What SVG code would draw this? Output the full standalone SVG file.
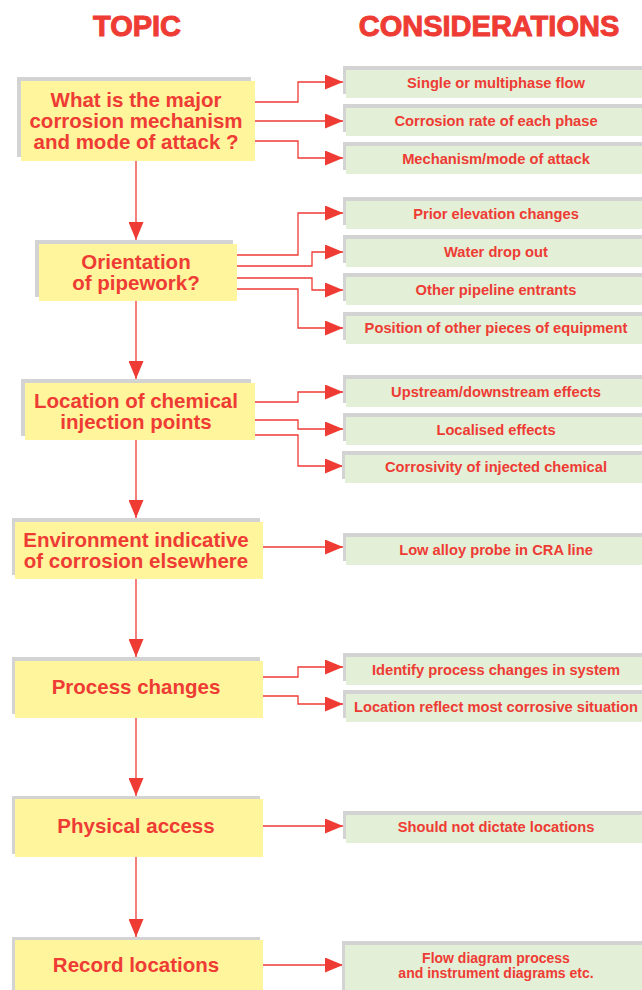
<svg xmlns="http://www.w3.org/2000/svg" width="642" height="990" viewBox="0 0 642 990">
  <style>
    .hdr { font-family: "Liberation Sans", Arial, sans-serif; font-weight: bold; font-size: 29px; fill: #ee3b34; stroke: #ee3b34; stroke-width: 1; text-anchor: middle; }
    .shadow { fill: #d3d3d3; }
    .topic { fill: #fef59c; }
    .cons { fill: #e3efd6; }
    .tt { font-family: "Liberation Sans", Arial, sans-serif; font-weight: bold; font-size: 20.5px; fill: #ee3b34; text-anchor: middle; }
    .ct { font-family: "Liberation Sans", Arial, sans-serif; font-weight: bold; font-size: 14.7px; fill: #ee3b34; text-anchor: middle; }
    .ct2 { font-family: "Liberation Sans", Arial, sans-serif; font-weight: bold; font-size: 14px; fill: #ee3b34; text-anchor: middle; }
    .link { fill: none; stroke: #ee3b34; stroke-width: 1.3; marker-end: url(#head); }
  </style>
  <defs>
    <marker id="head" viewBox="0 0 18 15" refX="18" refY="7.5" markerWidth="18" markerHeight="15" markerUnits="userSpaceOnUse" orient="auto">
      <path d="M0,0 L18,7.5 L0,15 z" fill="#ee3b34"/>
    </marker>
  </defs>

  <rect width="642" height="990" fill="#ffffff"/>

  <!-- column headings -->
  <text class="hdr" x="137" y="36">TOPIC</text>
  <text class="hdr" x="489" y="36">CONSIDERATIONS</text>

  <!-- connectors -->
  <g id="connectors">
    <!-- topic chain -->
    <path class="link" d="M136,161 V240"/>
    <path class="link" d="M136,301 V379"/>
    <path class="link" d="M136,440 V518"/>
    <path class="link" d="M136,579 V657"/>
    <path class="link" d="M136,718 V796"/>
    <path class="link" d="M136,857 V937"/>
    <!-- mechanism -->
    <path class="link" d="M255,102 H298 V82 H343"/>
    <path class="link" d="M255,121 H343"/>
    <path class="link" d="M255,141 H298 V158 H343"/>
    <!-- orientation -->
    <path class="link" d="M237,255 H298 V213 H343"/>
    <path class="link" d="M237,266 H312 V252 H343"/>
    <path class="link" d="M237,278 H312 V290 H343"/>
    <path class="link" d="M237,289 H298 V328 H343"/>
    <!-- injection points -->
    <path class="link" d="M255,402 H298 V392 H343"/>
    <path class="link" d="M255,420 H298 V429 H343"/>
    <path class="link" d="M255,435 H298 V466 H343"/>
    <!-- environment -->
    <path class="link" d="M263,547 H343"/>
    <!-- process changes -->
    <path class="link" d="M263,677 H298 V667 H343"/>
    <path class="link" d="M263,696 H298 V704 H343"/>
    <!-- physical access -->
    <path class="link" d="M263,826 H343"/>
    <!-- record locations -->
    <path class="link" d="M263,965 H343"/>
  </g>

  <!-- topic boxes -->
  <g id="topic-mechanism">
    <rect class="shadow" x="17" y="77" width="234" height="80"/>
    <rect class="topic" x="21" y="81" width="234" height="80"/>
    <text class="tt" x="136" y="107">What is the major</text>
    <text class="tt" x="136" y="128">corrosion mechanism</text>
    <text class="tt" x="136" y="149">and mode of attack ?</text>
  </g>
  <g id="topic-orientation">
    <rect class="shadow" x="35" y="240" width="198" height="57"/>
    <rect class="topic" x="39" y="244" width="198" height="57"/>
    <text class="tt" x="136" y="269">Orientation</text>
    <text class="tt" x="136" y="290">of pipework?</text>
  </g>
  <g id="topic-injection">
    <rect class="shadow" x="21" y="379" width="230" height="57"/>
    <rect class="topic" x="25" y="383" width="230" height="57"/>
    <text class="tt" x="136" y="408">Location of chemical</text>
    <text class="tt" x="136" y="429">injection points</text>
  </g>
  <g id="topic-environment">
    <rect class="shadow" x="12" y="518" width="248" height="57"/>
    <rect class="topic" x="15" y="522" width="248" height="57"/>
    <text class="tt" x="136" y="547">Environment indicative</text>
    <text class="tt" x="136" y="568">of corrosion elsewhere</text>
  </g>
  <g id="topic-process">
    <rect class="shadow" x="12" y="657" width="248" height="57"/>
    <rect class="topic" x="15" y="661" width="248" height="57"/>
    <text class="tt" x="136" y="694">Process changes</text>
  </g>
  <g id="topic-access">
    <rect class="shadow" x="12" y="796" width="248" height="58"/>
    <rect class="topic" x="15" y="799" width="248" height="58"/>
    <text class="tt" x="136" y="833">Physical access</text>
  </g>
  <g id="topic-record">
    <rect class="shadow" x="12" y="937" width="248" height="57"/>
    <rect class="topic" x="15" y="940" width="248" height="57"/>
    <text class="tt" x="136" y="972">Record locations</text>
  </g>

  <!-- consideration boxes -->
  <g id="c-multiphase">
    <rect class="shadow" x="343" y="66" width="300" height="28"/>
    <rect class="cons" x="346" y="70" width="297" height="28"/>
    <text class="ct" x="496" y="88">Single or multiphase flow</text>
  </g>
  <g id="c-rate">
    <rect class="shadow" x="343" y="104" width="300" height="28"/>
    <rect class="cons" x="346" y="108" width="297" height="28"/>
    <text class="ct" x="496" y="126">Corrosion rate of each phase</text>
  </g>
  <g id="c-mode">
    <rect class="shadow" x="343" y="142" width="300" height="28"/>
    <rect class="cons" x="346" y="146" width="297" height="28"/>
    <text class="ct" x="496" y="164">Mechanism/mode of attack</text>
  </g>
  <g id="c-elevation">
    <rect class="shadow" x="343" y="197" width="300" height="28"/>
    <rect class="cons" x="346" y="201" width="297" height="28"/>
    <text class="ct" x="496" y="219">Prior elevation changes</text>
  </g>
  <g id="c-dropout">
    <rect class="shadow" x="343" y="235" width="300" height="28"/>
    <rect class="cons" x="346" y="239" width="297" height="28"/>
    <text class="ct" x="496" y="257">Water drop out</text>
  </g>
  <g id="c-entrants">
    <rect class="shadow" x="343" y="273" width="300" height="28"/>
    <rect class="cons" x="346" y="277" width="297" height="28"/>
    <text class="ct" x="496" y="295">Other pipeline entrants</text>
  </g>
  <g id="c-equipment">
    <rect class="shadow" x="343" y="312" width="300" height="28"/>
    <rect class="cons" x="346" y="316" width="297" height="28"/>
    <text class="ct" x="496" y="333">Position of other pieces of equipment</text>
  </g>
  <g id="c-updown">
    <rect class="shadow" x="343" y="375" width="300" height="28"/>
    <rect class="cons" x="346" y="379" width="297" height="28"/>
    <text class="ct" x="496" y="397">Upstream/downstream effects</text>
  </g>
  <g id="c-local">
    <rect class="shadow" x="343" y="413" width="300" height="28"/>
    <rect class="cons" x="346" y="417" width="297" height="28"/>
    <text class="ct" x="496" y="435">Localised effects</text>
  </g>
  <g id="c-corrosivity">
    <rect class="shadow" x="342" y="451" width="301" height="28"/>
    <rect class="cons" x="345" y="455" width="298" height="28"/>
    <text class="ct" x="496" y="472">Corrosivity of injected chemical</text>
  </g>
  <g id="c-probe">
    <rect class="shadow" x="343" y="533" width="300" height="28"/>
    <rect class="cons" x="346" y="537" width="297" height="28"/>
    <text class="ct" x="496" y="555">Low alloy probe in CRA line</text>
  </g>
  <g id="c-identify">
    <rect class="shadow" x="343" y="653" width="300" height="28"/>
    <rect class="cons" x="346" y="657" width="297" height="28"/>
    <text class="ct" x="496" y="675">Identify process changes in system</text>
  </g>
  <g id="c-reflect">
    <rect class="shadow" x="343" y="690" width="300" height="28"/>
    <rect class="cons" x="346" y="694" width="297" height="28"/>
    <text class="ct" x="496" y="712">Location reflect most corrosive situation</text>
  </g>
  <g id="c-dictate">
    <rect class="shadow" x="343" y="811" width="300" height="28"/>
    <rect class="cons" x="346" y="815" width="297" height="28"/>
    <text class="ct" x="496" y="832">Should not dictate locations</text>
  </g>
  <g id="c-diagrams">
    <rect class="shadow" x="342" y="941" width="301" height="52"/>
    <rect class="cons" x="345" y="945" width="298" height="52"/>
    <text class="ct2" x="496" y="963">Flow diagram process</text>
    <text class="ct2" x="496" y="978">and instrument diagrams etc.</text>
  </g>
</svg>
